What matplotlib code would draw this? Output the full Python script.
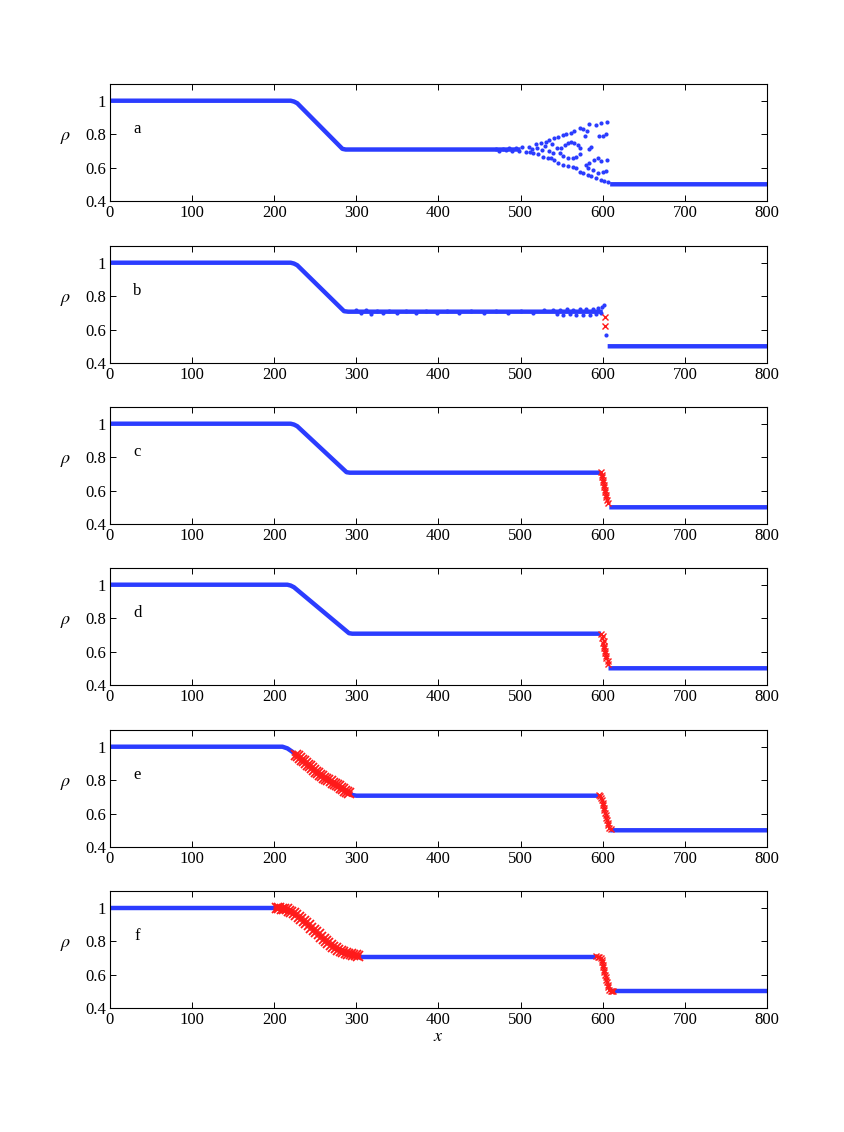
import numpy as np
import matplotlib
matplotlib.use('Agg')
import matplotlib.pyplot as plt

# Times-like look of the original figure
plt.rcParams['font.family'] = ['Liberation Serif', 'DejaVu Serif']
plt.rcParams['mathtext.fontset'] = 'stix'
plt.rcParams['font.size'] = 12

BLUE = '#2b3cff'
RED = '#ff1a1a'
nan = np.nan

panel_letters = ['a', 'b', 'c', 'd', 'e', 'f']
x_ticks = [0, 100, 200, 300, 400, 500, 600, 700, 800]
y_ticks = [0.4, 0.6, 0.8, 1.0]
y_tick_labels = ['0.4', '0.6', '0.8', '1']

# smooth parts of each density profile (nan breaks the line)
blue_a_x = [0, 220, 224, 228, 283, 287, 500, nan, 609, 800]
blue_a_y = [1.0, 1.0, 0.995, 0.985, 0.712, 0.708, 0.708, nan, 0.5, 0.5]
blue_b_x = [0, 220, 224, 228, 285, 290, 600, nan, 606, 800]
blue_b_y = [1.0, 1.0, 0.995, 0.985, 0.710, 0.707, 0.707, nan, 0.5, 0.5]
blue_c_x = [0, 220, 224, 228, 288, 292, 598, nan, 608, 800]
blue_c_y = [1.0, 1.0, 0.995, 0.985, 0.710, 0.707, 0.707, nan, 0.5, 0.5]
blue_d_x = [0, 216, 220, 224, 291, 295, 598, nan, 607, 800]
blue_d_y = [1.0, 1.0, 0.995, 0.985, 0.710, 0.707, 0.707, nan, 0.5, 0.5]
blue_e_x = [0, 210, 216, 222, 226, nan, 290, 294, 300, 595, nan, 609, 800]
blue_e_y = [1.0, 1.0, 0.99, 0.97, 0.955, nan, 0.724, 0.712, 0.707, 0.707, nan, 0.5, 0.5]
blue_f_x = [0, 204, nan, 302, 592, nan, 611, 800]
blue_f_y = [1.0, 1.0, nan, 0.708, 0.708, nan, 0.5, 0.5]

# scattered blue sites (oscillations / noise)
dots_a_x = [470, 474, 478, 482, 486, 490, 494, 498, 502, 506, 510, 512, 514,
            519, 525, 531, 535, 541, 545, 551, 555.5, 561.6, 565.6, 571.7, 575.7,
            583.8, 591.9, 598, 605.3, 581, 578, 595, 600, 604,
            549.4, 553.5, 557.5, 561.6, 565.6, 569.7, 572.9, 547.4, 551.4, 557.5,
            563.6, 567.6, 571.7, 583.8, 586,
            520, 526, 530, 534, 538, 540, 544,
            515, 521, 527, 533, 537, 541, 545, 551, 557.5, 563.6, 567.6, 571.7,
            575.7, 581.8, 585.9, 591.9, 598, 602, 606,
            579.8, 583.8, 589.9, 594, 598, 605, 582, 588, 594, 600, 604]
dots_a_y = [0.712, 0.702, 0.714, 0.703, 0.716, 0.700, 0.719, 0.699, 0.722, 0.696, 0.726, 0.692, 0.712,
            0.739, 0.745, 0.755, 0.765, 0.775, 0.785, 0.795, 0.799, 0.805, 0.819, 0.835, 0.831,
            0.859, 0.855, 0.865, 0.871, 0.821, 0.790, 0.790, 0.790, 0.800,
            0.715, 0.735, 0.749, 0.751, 0.749, 0.735, 0.715, 0.690, 0.672, 0.659,
            0.655, 0.662, 0.680, 0.712, 0.722,
            0.720, 0.705, 0.730, 0.700, 0.740, 0.690, 0.715,
            0.685, 0.679, 0.665, 0.659, 0.655, 0.645, 0.625, 0.615, 0.611, 0.605, 0.595, 0.575,
            0.566, 0.556, 0.552, 0.536, 0.526, 0.520, 0.512,
            0.615, 0.629, 0.645, 0.655, 0.640, 0.645, 0.595, 0.585, 0.566, 0.575, 0.578]

dots_b_x = [300, 306, 312, 318, 325, 333, 340, 350, 360, 372, 385, 398, 410, 425,
            440, 455, 470, 485, 500, 515, 528,
            540, 548, 556, 564, 572, 580, 588, 594, 599, 601,
            544, 552, 560, 568, 576, 584, 592, 598, 604]
dots_b_y = [0.716, 0.698, 0.720, 0.695, 0.712, 0.700, 0.714, 0.702, 0.711, 0.699, 0.713, 0.701, 0.710, 0.700,
            0.712, 0.702, 0.711, 0.701, 0.712, 0.700, 0.716,
            0.715, 0.720, 0.722, 0.720, 0.724, 0.726, 0.725, 0.730, 0.738, 0.745,
            0.695, 0.690, 0.692, 0.688, 0.690, 0.689, 0.692, 0.700, 0.565]

# red crosses (flagged sites)
red_b_x = [603, 603]
red_b_y = [0.675, 0.620]
red_c_x = [598, 599.5, 599, 600.5, 600, 601.5, 601, 602.5, 602.5, 604, 604, 605.5, 606]
red_c_y = [0.712, 0.695, 0.680, 0.665, 0.650, 0.635, 0.620, 0.605, 0.590, 0.575, 0.560, 0.545, 0.528]
red_d_x = [598, 600, 599.5, 601, 600.5, 602, 601.5, 603, 603, 604.5, 604.5, 606, 606.5]
red_d_y = [0.708, 0.695, 0.680, 0.665, 0.650, 0.635, 0.620, 0.605, 0.590, 0.575, 0.560, 0.545, 0.528]
# rarefaction fans are dense bands of crosses
red_e_fan_x = [226, 228.5, 231, 233.5, 236, 238.5, 241, 243.5, 246, 248.5, 251, 253.5, 256,
               258.5, 261, 263.5, 266, 268.5, 271, 273.5, 276, 278.5, 281, 283.5, 286, 288.5, 291]
red_e_fan_y = [0.953, 0.943, 0.933, 0.922, 0.912, 0.902, 0.892, 0.882, 0.871, 0.861, 0.851, 0.841, 0.831,
               0.823, 0.815, 0.807, 0.800, 0.792, 0.784, 0.777, 0.770, 0.762, 0.754, 0.746, 0.738, 0.730, 0.723]
red_e_x = [595, 597, 598, 599, 600, 600.5, 601.5, 602, 603, 603.5, 604.5, 605, 606, 607, 608, 610]
red_e_y = [0.710, 0.705, 0.695, 0.680, 0.665, 0.650, 0.635, 0.620, 0.605, 0.590, 0.575, 0.560, 0.545,
           0.530, 0.515, 0.505]
red_f_fan_x = [203, 206, 209, 212, 215, 218, 221, 224, 227, 230, 233, 236, 239, 242, 245, 248, 251,
               254, 257, 260, 263, 266, 269, 272, 275, 278, 281, 284, 287, 290, 293, 296, 299, 302]
red_f_fan_y = [1.000, 0.998, 0.995, 0.993, 0.990, 0.982, 0.975, 0.967, 0.956, 0.945, 0.934, 0.921, 0.908,
               0.895, 0.881, 0.868, 0.854, 0.840, 0.827, 0.814, 0.801, 0.790, 0.779, 0.767, 0.757, 0.750,
               0.743, 0.735, 0.730, 0.725, 0.721, 0.717, 0.715, 0.712]
red_f_x = [592, 594, 596, 597.5, 598.5, 599, 600, 600.5, 601.5, 602, 603, 603.5, 604.5, 605, 606,
           607, 608, 609.5, 611, 612]
red_f_y = [0.710, 0.708, 0.705, 0.700, 0.690, 0.675, 0.660, 0.645, 0.630, 0.615, 0.600, 0.585, 0.570,
           0.555, 0.540, 0.525, 0.510, 0.503, 0.500, 0.500]

blue_lines = [(blue_a_x, blue_a_y), (blue_b_x, blue_b_y), (blue_c_x, blue_c_y),
              (blue_d_x, blue_d_y), (blue_e_x, blue_e_y), (blue_f_x, blue_f_y)]
blue_dots = [(dots_a_x, dots_a_y), (dots_b_x, dots_b_y), None, None, None, None]
red_marks = [None, (red_b_x, red_b_y), (red_c_x, red_c_y), (red_d_x, red_d_y),
             (red_e_x, red_e_y), (red_f_x, red_f_y)]
red_fans = [None, None, None, None, (red_e_fan_x, red_e_fan_y), (red_f_fan_x, red_f_fan_y)]

fig = plt.figure(figsize=(8.45, 11.32), dpi=100)

W, H = 845.0, 1132.0
left_px, width_px, height_px = 110, 657, 117
tops_px = [84, 246, 407, 568, 730, 891]

for i, letter in enumerate(panel_letters):
    top = tops_px[i]
    ax = fig.add_axes([left_px / W, 1 - (top + height_px) / H, width_px / W, height_px / H])

    bx, by = blue_lines[i]
    ax.plot(bx, by, '-', color=BLUE, lw=3.2, solid_capstyle='butt')
    if blue_dots[i] is not None:
        dx, dy = blue_dots[i]
        ax.plot(dx, dy, 'o', color=BLUE, ms=3.0, mew=0, ls='none')
    if red_fans[i] is not None:
        fx, fy = red_fans[i]
        ax.plot(fx, fy, '-', color=RED, lw=4.5, alpha=0.9)
        ax.plot(fx, fy, 'x', color=RED, ms=7, mew=1.3, ls='none')
    if red_marks[i] is not None:
        rx, ry = red_marks[i]
        ax.plot(rx, ry, 'x', color=RED, ms=5, mew=1.0, ls='none')

    ax.set_xlim(0, 800)
    ax.set_ylim(0.4, 1.1)
    ax.set_xticks(x_ticks)
    ax.set_yticks(y_ticks)
    ax.set_yticklabels(y_tick_labels)
    ax.tick_params(direction='in', top=True, right=True, length=4, width=0.7, labelsize=12, pad=3)
    for sp in ax.spines.values():
        sp.set_linewidth(0.8)

    ax.text(33, 0.83, letter, fontsize=12, ha='center', va='center')
    ax.set_ylabel(r'$\rho$', rotation=0, fontsize=13)
    ax.yaxis.set_label_coords(-0.068, 0.47)

    if i == len(panel_letters) - 1:
        ax.set_xlabel(r'$x$', fontsize=13, labelpad=0)

fig.savefig('out.png', dpi=100)
